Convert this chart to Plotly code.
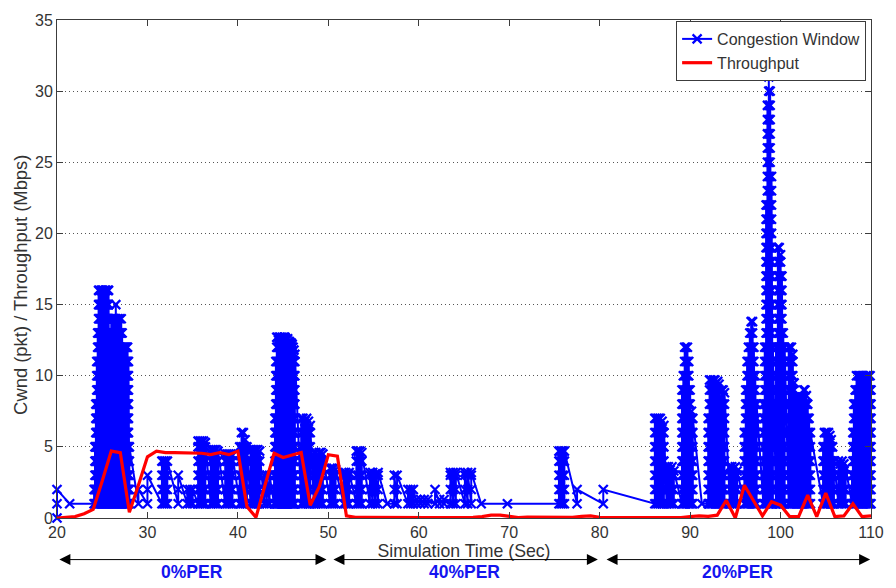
import plotly.graph_objects as go

# ---------------------------------------------------------------------------
# Congestion window (pkt)
# Samples at the very start of the run (t = 20 s)
cw_head_t = [20, 20, 20]
cw_head_v = [0, 1, 2]

# Each window cycle: time (s) and peak window (pkt). Within a cycle the
# window climbs packet by packet from 1 up to the peak, then collapses.
cw_t_0per = [21.4,
             24.1, 24.2, 24.3, 24.4, 24.5, 24.6, 24.7, 24.8, 24.9, 25.0,
             25.1, 25.2, 25.3, 25.4, 25.5, 25.6, 25.7, 25.8, 25.9, 26.0,
             26.1, 26.2, 26.3, 26.4, 26.5, 26.6, 26.7, 26.8, 26.9, 27.0,
             27.1, 27.2, 27.3, 27.4, 27.5, 27.6, 27.7, 27.8, 27.9, 28.0,
             29.0, 30.0, 31.6, 31.8, 32.0, 32.2, 33.4, 34.4, 34.7, 35.0,
             35.6, 35.8, 36.0, 36.2, 36.4, 37.0, 37.2, 37.4, 37.6, 37.8,
             38.6, 38.8, 39.0, 39.2, 39.4, 40.2, 40.4, 40.6, 40.8, 41.0,
             41.4, 41.6, 41.8, 42.0, 42.2, 42.4, 42.9, 43.2, 43.5,
             44.0, 44.1, 44.2, 44.3, 44.4, 44.5, 44.6, 44.7, 44.8, 44.9,
             45.0, 45.1, 45.2, 45.3, 45.4, 45.5, 45.6, 45.7, 45.8, 45.9,
             46.0, 46.1, 46.2, 46.3,
             47.0, 47.2, 47.4, 47.6, 47.8, 48.0,
             48.4, 48.6, 48.8, 49.0, 49.2, 49.4,
             50.2, 50.4, 50.6, 50.8]
cw_pk_0per = [1,
              2, 5, 8, 11, 13, 16, 16, 15, 16, 16,
              16, 15, 16, 16, 15, 16, 16, 13, 12, 14,
              13, 14, 14, 14, 15, 13, 14, 13, 14, 13,
              14, 13, 12, 12, 12, 12, 12, 12, 11, 5,
              2, 3, 4, 4, 4, 4, 3, 2, 2, 2,
              5.4, 5.4, 5.4, 5.4, 5.3, 4.8, 4.8, 4.8, 4.8, 4.7,
              4.5, 4.5, 4.5, 4.5, 4.4, 5, 6, 6, 5.5, 5,
              4.8, 4.8, 4.8, 4.8, 4.8, 4.7, 3, 3, 3,
              3, 7, 11, 12.7, 12.7, 12.5, 12.7, 12.7, 12.6, 12.7,
              12.5, 12.7, 12.7, 12.6, 12.5, 12.6, 12.4, 12.4, 12.3, 12.3,
              12.2, 12.0, 11.8, 11.5,
              7, 7, 6.8, 7, 6.8, 6.5,
              4.6, 4.6, 4.5, 4.6, 4.6, 4.5,
              3.5, 3.5, 3.5, 3.4]

cw_t_40per = [51.7, 51.9, 52.1, 52.3, 53.1, 53.3, 53.5, 53.7,
              54.6, 54.9, 55.2, 55.5, 56.5, 57.3, 57.6,
              58.8, 59.1, 59.4, 59.8, 60.2, 60.6, 61.0, 61.8,
              62.3, 62.8, 63.5, 63.8, 64.1, 65.1, 65.4, 65.8,
              66.9, 69.8, 75.5, 75.7, 75.9, 76.1, 77.5, 80.4]
cw_pk_40per = [3.2, 3.2, 3.1, 3.2, 4.7, 4.7, 4.7, 4.6,
               3.2, 3.2, 3.1, 3.2, 1, 3, 3,
               2, 2, 2, 1.3, 1.3, 1.3, 1.3, 2,
               1.3, 1.3, 3.2, 3.2, 3.2, 3.2, 3.2, 3.2,
               1, 1, 4.7, 4.7, 4.7, 4.7, 2, 2]

cw_t_20per = [86.1, 86.3, 86.5, 86.7, 86.9, 87.1,
              87.4, 87.6, 87.8, 88.0, 88.2,
              89.1, 89.25, 89.4, 89.55, 89.7, 89.85, 90.0, 90.15, 90.3,
              91.3,
              92.0, 92.15, 92.3, 92.45, 92.6, 92.75, 92.9, 93.05, 93.2,
              93.35, 93.5, 93.65, 93.8,
              94.4, 94.6, 94.8, 95.0, 95.2,
              96.0, 96.15, 96.3, 96.45, 96.6, 96.75, 96.9, 97.05, 97.2, 97.35,
              98.1, 98.25, 98.4, 98.55, 98.7, 98.85, 99.0, 99.15,
              99.5, 99.7, 99.85, 100.0, 100.15, 100.3, 100.45,
              100.9, 101.05, 101.2, 101.35, 101.5, 101.65, 101.8, 101.95,
              102.1, 102.25, 102.4, 102.55, 102.7, 102.85, 103.0, 103.15, 103.3,
              104.7, 104.85, 105.0, 105.15, 105.3, 105.45, 105.6, 105.75, 105.9,
              106.4, 106.6, 106.8, 107.0, 107.2,
              107.9, 108.0, 108.1, 108.25, 108.4, 108.55, 108.7, 108.85,
              109.0, 109.15, 109.3, 109.45, 109.6, 109.75, 109.9, 110.0]
cw_pk_20per = [7, 7, 7, 7, 6.8, 6.5,
               3.6, 3.6, 3.4, 3.6, 3.3,
               9, 10, 12, 12, 12, 11, 9, 7.5, 7,
               1,
               7, 9.7, 9.7, 9.6, 9.7, 9.7, 9.5, 9.6, 9.4,
               8.5, 9, 9, 8.8,
               3.6, 3.6, 3.5, 3.6, 3.3,
               6, 9, 11, 12, 13, 13.8, 13.8, 12, 10, 8,
               8, 12, 22, 29, 31, 30, 24, 12,
               12, 19, 19, 18.5, 17, 13, 12,
               12, 12, 12, 11.5, 9.5, 8.5, 8.5, 8.3,
               8.5, 8.4, 8.5, 9, 9, 8.6, 8, 7, 6,
               5, 6, 6, 6, 6, 5.8, 5.5, 5, 4,
               4, 3.8, 4, 3.8, 3.5,
               3, 6, 8, 9, 10, 10, 10, 10,
               10, 10, 9.8, 10, 10, 10, 10, 9]

# ---------------------------------------------------------------------------
# Throughput (Mbps), one sample per second from 20 s to 110 s
tp_t = list(range(20, 111))
tp_v = [0.0, 0.05, 0.1, 0.3, 0.6, 2.6, 4.7, 4.6, 0.4, 2.3,      # 20-29
        4.3, 4.7, 4.6, 4.6, 4.6, 4.55, 4.55, 4.45, 4.6, 4.45,   # 30-39
        4.7, 0.8, 0.05, 2.3, 4.55, 4.25, 4.45, 4.6, 0.9, 2.2,   # 40-49
        4.45, 4.35, 0.15, 0.05, 0.05, 0.04, 0.05, 0.03, 0.03, 0.03,  # 50-59
        0.03, 0.03, 0.03, 0.03, 0.03, 0.03, 0.05, 0.1, 0.2, 0.2,     # 60-69
        0.1, 0.03, 0.06, 0.06, 0.03, 0.03, 0.03, 0.05, 0.12, 0.15,   # 70-79
        0.05, 0.03, 0.03, 0.03, 0.03, 0.03, 0.03, 0.03, 0.03, 0.03,  # 80-89
        0.1, 0.15, 0.12, 0.2, 1.25, 0.0, 2.3, 1.2, 0.15, 1.15,       # 90-99
        0.9, 0.1, 0.1, 1.6, 0.1, 1.75, 0.1, 0.15, 1.0, 0.1,          # 100-109
        0.15]                                                        # 110

# Loss-rate phases along the time axis
phase_start = [20.1, 50.4, 80.6]
phase_end = [49.8, 79.8, 109.9]
phase_label = ["0%PER", "40%PER", "20%PER"]


def expand_cycles(times, peaks):
    """Window samples for each cycle: 1, 2, ... up to the cycle peak."""
    xs, ys = [], []
    for t, pk in zip(times, peaks):
        levels = [float(v) for v in range(1, int(pk) + 1)]
        if pk > levels[-1]:
            levels.append(pk)
        xs.extend([t] * len(levels))
        ys.extend(levels)
    return xs, ys


cw_x, cw_y = list(cw_head_t), list(cw_head_v)
for ts, pks in ((cw_t_0per, cw_pk_0per), (cw_t_40per, cw_pk_40per),
                (cw_t_20per, cw_pk_20per)):
    xs, ys = expand_cycles(ts, pks)
    cw_x += xs
    cw_y += ys

BLUE = "#0000ff"
RED = "#ff0000"
AXIS = "#3c3c3c"
TEXT = "#333333"
FONT = "Liberation Sans, Arial, sans-serif"

# Vertical placement (paper units, below the plot) of the phase arrows
ARROW_Y = -0.0835
LABEL_Y = -0.1093

fig = go.Figure()
fig.add_trace(go.Scatter(
    x=cw_x, y=cw_y, mode="lines+markers", name="Congestion Window",
    line=dict(color=BLUE, width=2),
    marker=dict(symbol="x-thin", size=9, color=BLUE,
                line=dict(color=BLUE, width=2.3)),
    cliponaxis=False,
))
fig.add_trace(go.Scatter(
    x=tp_t, y=tp_v, mode="lines", name="Throughput",
    line=dict(color=RED, width=3.2),
    cliponaxis=False,
))

annotations = []
for x0, x1, lab in zip(phase_start, phase_end, phase_label):
    annotations.append(dict(
        x=x1, y=ARROW_Y, ax=x0, ay=0,
        xref="x", yref="paper", axref="x", ayref="pixel",
        text="", showarrow=True, arrowside="end+start",
        arrowhead=2, startarrowhead=2, arrowsize=2.2, startarrowsize=2.2,
        arrowwidth=1, arrowcolor="black", standoff=0, startstandoff=0,
    ))
    annotations.append(dict(
        x=(x0 + x1) / 2, y=LABEL_Y, xref="x", yref="paper",
        text="<b>%s</b>" % lab, showarrow=False,
        font=dict(family=FONT, size=17.5, color="#1414f0"),
        xanchor="center", yanchor="middle",
    ))

# y-axis title, placed as rotated text left of the tick labels
annotations.append(dict(
    x=-0.0449, y=0.469, xref="paper", yref="paper",
    text="Cwnd (pkt) / Throughput (Mbps)", textangle=-90, showarrow=False,
    font=dict(family=FONT, size=18.4, color=TEXT),
    xanchor="center", yanchor="middle",
))

fig.update_layout(
    width=896, height=588,
    margin=dict(l=57, r=15, t=15, b=70),
    paper_bgcolor="white", plot_bgcolor="white",
    font=dict(family=FONT, size=16, color=TEXT),
    showlegend=True,
    legend=dict(
        x=0.994, y=0.998, xanchor="right", yanchor="top",
        bgcolor="white", bordercolor=AXIS, borderwidth=1,
        font=dict(family=FONT, size=16, color=TEXT),
        tracegroupgap=0,
    ),
    annotations=annotations,
)
fig.update_xaxes(
    range=[20, 110], tickvals=list(range(20, 111, 10)),
    ticks="inside", ticklen=6, tickcolor=AXIS,
    showline=True, linecolor=AXIS, linewidth=1, mirror="allticks",
    showgrid=False, zeroline=False,
    title=dict(text="Simulation Time (Sec)", standoff=2,
               font=dict(family=FONT, size=17.7, color=TEXT)),
)
fig.update_yaxes(
    range=[0, 35], tickvals=list(range(0, 36, 5)),
    ticks="inside", ticklen=6, tickcolor=AXIS,
    showline=True, linecolor=AXIS, linewidth=1, mirror="allticks",
    showgrid=True, gridcolor="#555555", gridwidth=1, griddash="1px,3px",
    zeroline=False,
)

fig.write_html("out.html")
